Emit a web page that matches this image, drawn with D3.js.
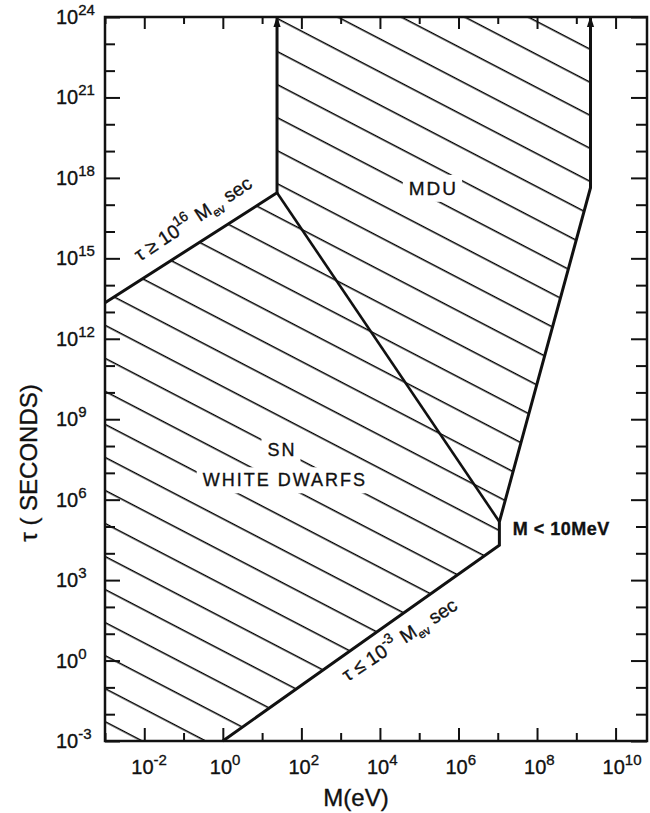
<!DOCTYPE html>
<html lang="en">

<head>
    <meta charset="utf-8">
    <title>Neutrino mass and lifetime limits</title>
    <script type="text/javascript" src="https://d3js.org/d3.v7.min.js"></script>
    <style type="text/css">
        body {
            margin: 0;
            background: #fff;
        }

        svg text {
            font-family: "Liberation Sans", Arial, sans-serif;
            fill: #111;
            stroke: #111;
            stroke-width: 0.35px;
        }

        .axis path {
            display: none;
        }

        .axis line {
            stroke: #111;
            stroke-width: 2px;
        }
    </style>
</head>

<body>
    <script type="text/javascript">

        // ticks, one per decade
        var massTicks = [1e-3, 1e-2, 1e-1, 1e0, 1e1, 1e2, 1e3, 1e4, 1e5, 1e6, 1e7, 1e8, 1e9, 1e10];
        var massLabelExp = [-2, 0, 2, 4, 6, 8, 10];
        var tauTicks = [1e-3, 1e-2, 1e-1, 1e0, 1e1, 1e2, 1e3, 1e4, 1e5, 1e6, 1e7, 1e8, 1e9, 1e10,
            1e11, 1e12, 1e13, 1e14, 1e15, 1e16, 1e17, 1e18, 1e19, 1e20, 1e21, 1e22, 1e23, 1e24];
        var tauLabelExp = [-3, 0, 3, 6, 9, 12, 15, 18, 21, 24];

        // upper-left boundary (tau >= 1e16 M), then up to the top
        var upperM = [1e-3, 24, 24];
        var upperTau = [2.2e13, 2.8e17, 1e24];
        // lower-right boundary (tau <= 1e-3 M), M < 10 MeV, then MDU edge
        var lowerM = [1, 1.1e7, 1.1e7, 2.3e9, 2.3e9];
        var lowerTau = [1e-3, 2.0e4, 1.5e5, 4.3e17, 1e24];
        // line splitting SN / white dwarfs from MDU
        var dividerM = [24, 1.1e7];
        var dividerTau = [2.8e17, 1.5e5];

        // region names and where they sit
        var regionNames = ["MDU", "SN", "WHITE DWARFS"];
        var regionM = [2.3e5, 32, 38];
        var regionTau = [4.2e17, 7.2e7, 5.5e6];

        var margin = { top: 17, right: 3, bottom: 72, left: 105 };
        var w = 650;
        var h = 813;

        var xScale = d3.scaleLog()
            .domain([1e-3, Math.pow(10, 10.8)])
            .range([margin.left, w - margin.right]);

        var yScale = d3.scaleLog()
            .domain([1e-3, 1e24])
            .range([h - margin.bottom, margin.top]);

        var svg = d3.select("body")
            .append("svg")
            .attr("width", w)
            .attr("height", h);

        // hatch pattern, lines running down to the right
        var hatchAngle = 27.5;
        var hatchGap = 29.3;
        var defs = svg.append("defs");
        defs.append("pattern")
            .attr("id", "hatch")
            .attr("patternUnits", "userSpaceOnUse")
            .attr("width", 20)
            .attr("height", hatchGap)
            .attr("patternTransform", "rotate(" + hatchAngle + ")")
            .append("line")
            .attr("x1", 0)
            .attr("x2", 20)
            .attr("y1", 5.6)
            .attr("y2", 5.6)
            .attr("stroke", "#000")
            .attr("stroke-width", 1.5);

        defs.append("marker")
            .attr("id", "arrow")
            .attr("viewBox", "0 -5 12 10")
            .attr("refX", 11)
            .attr("refY", 0)
            .attr("markerUnits", "userSpaceOnUse")
            .attr("markerWidth", 14)
            .attr("markerHeight", 9)
            .attr("orient", "auto")
            .append("path")
            .attr("d", "M0,-4L12,0L0,4Z")
            .attr("fill", "#111");

        // region that is ruled out
        var regionPts = [];
        upperM.forEach(function (m, i) { regionPts.push([m, upperTau[i]]); });
        for (var i = lowerM.length - 1; i >= 0; i--) {
            regionPts.push([lowerM[i], lowerTau[i]]);
        }
        regionPts.push([1e-3, 1e-3]);

        var line = d3.line()
            .x(function (d) { return xScale(d[0]); })
            .y(function (d) { return yScale(d[1]); });

        svg.append("path")
            .datum(regionPts)
            .attr("d", line.curve(d3.curveLinearClosed))
            .attr("fill", "url(#hatch)")
            .attr("stroke", "none");
        line.curve(d3.curveLinear);

        // region names, with the hatching cleared behind them
        var names = svg.append("g");
        regionNames.forEach(function (t, i) {
            var g = names.append("g");
            var txt = g.append("text")
                .attr("x", xScale(regionM[i]))
                .attr("y", yScale(regionTau[i]))
                .attr("text-anchor", "middle")
                .attr("dy", "0.36em")
                .style("font-size", i == 0 ? "19px" : "18px")
                .style("letter-spacing", "2px")
                .text(t);
            var bb = txt.node().getBBox();
            g.insert("rect", "text")
                .attr("x", bb.x - 6)
                .attr("y", bb.y - 3)
                .attr("width", bb.width + 10)
                .attr("height", bb.height + 6)
                .attr("fill", "#fff");
        });

        // boundary lines
        var toPts = function (ms, ts) {
            return ms.map(function (m, i) { return [m, ts[i]]; });
        };
        svg.append("path")
            .datum(toPts(upperM, upperTau))
            .attr("d", line)
            .attr("fill", "none")
            .attr("stroke", "#111")
            .attr("stroke-width", 3)
            .attr("marker-end", "url(#arrow)");
        svg.append("path")
            .datum(toPts(lowerM, lowerTau))
            .attr("d", line)
            .attr("fill", "none")
            .attr("stroke", "#111")
            .attr("stroke-width", 3)
            .attr("marker-end", "url(#arrow)");
        svg.append("path")
            .datum(toPts(dividerM, dividerTau))
            .attr("d", line)
            .attr("fill", "none")
            .attr("stroke", "#111")
            .attr("stroke-width", 2.6);

        // frame
        svg.append("rect")
            .attr("x", margin.left)
            .attr("y", margin.top)
            .attr("width", w - margin.left - margin.right)
            .attr("height", h - margin.top - margin.bottom)
            .attr("fill", "none")
            .attr("stroke", "#111")
            .attr("stroke-width", 2.5);

        var isMajorX = function (d) { return massLabelExp.indexOf(Math.round(Math.log10(d))) >= 0; };
        var isMajorY = function (d) { return tauLabelExp.indexOf(Math.round(Math.log10(d))) >= 0; };

        // inward ticks on all four sides
        svg.append("g")
            .attr("class", "axis")
            .attr("transform", "translate(0," + (h - margin.bottom) + ")")
            .call(d3.axisBottom(xScale).tickValues(massTicks).tickSizeOuter(0).tickFormat(""))
            .selectAll(".tick line")
            .attr("y2", function (d) { return isMajorX(d) ? -13 : -8; });

        svg.append("g")
            .attr("class", "axis")
            .attr("transform", "translate(0," + margin.top + ")")
            .call(d3.axisTop(xScale).tickValues(massTicks).tickSizeOuter(0).tickFormat(""))
            .selectAll(".tick line")
            .attr("y2", function (d) { return isMajorX(d) ? 12 : 7; });

        svg.append("g")
            .attr("class", "axis")
            .attr("transform", "translate(" + margin.left + ",0)")
            .call(d3.axisLeft(yScale).tickValues(tauTicks).tickSizeOuter(0).tickFormat(""))
            .selectAll(".tick line")
            .attr("x2", function (d) { return isMajorY(d) ? 15 : 10; });

        svg.append("g")
            .attr("class", "axis")
            .attr("transform", "translate(" + (w - margin.right) + ",0)")
            .call(d3.axisRight(yScale).tickValues(tauTicks).tickSizeOuter(0).tickFormat(""))
            .selectAll(".tick line")
            .attr("x2", function (d) { return isMajorY(d) ? -16 : -11; });

        // power-of-ten tick labels
        var powLabel = function (sel, exp) {
            sel.append("tspan").text("10");
            sel.append("tspan")
                .attr("dy", -9)
                .style("font-size", "15px")
                .text(exp);
        };

        massLabelExp.forEach(function (e) {
            var t = svg.append("text")
                .attr("x", xScale(Math.pow(10, e)) - 13)
                .attr("y", h - margin.bottom + 33)
                .style("font-size", "20px");
            powLabel(t, e);
        });

        tauLabelExp.forEach(function (e) {
            var t = svg.append("text")
                .attr("x", 56)
                .attr("y", yScale(Math.pow(10, e)) + 7)
                .style("font-size", "20px");
            powLabel(t, e);
        });

        // axis titles
        svg.append("text")
            .attr("x", 356)
            .attr("y", 806)
            .attr("text-anchor", "middle")
            .style("font-size", "24px")
            .text("M(eV)");

        svg.append("text")
            .attr("transform", "translate(37," + 463 + ") rotate(-90)")
            .attr("text-anchor", "middle")
            .style("font-size", "24px")
            .text("\u03c4 ( SECONDS)");

        // M < 10 MeV
        svg.append("text")
            .attr("x", xScale(2.4e7))
            .attr("y", yScale(8.1e4))
            .attr("dy", "0.36em")
            .style("font-size", "18px")
            .style("font-weight", "bold")
            .style("letter-spacing", "0.5px")
            .text("M < 10MeV");

        // slanted bound labels
        var boundLabel = function (m, tau, rel, exp) {
            var t = svg.append("text")
                .attr("transform", "translate(" + xScale(m) + "," + yScale(tau) + ") rotate(-33.5)")
                .style("font-size", "19px");
            t.append("tspan").text("\u03c4 " + rel + " 10");
            t.append("tspan").attr("dy", -9).style("font-size", "14px").text(exp);
            t.append("tspan").attr("dy", 9).attr("dx", 7).text("M");
            t.append("tspan").attr("dy", 5).style("font-size", "12px").text("ev");
            t.append("tspan").attr("dy", -5).attr("dx", 6).text("sec");
        };
        boundLabel(7.7e-3, 7.4e14, "\u2265", "16");
        boundLabel(1.5e3, 0.16, "\u2264", "-3");

    </script>
</body>

</html>
